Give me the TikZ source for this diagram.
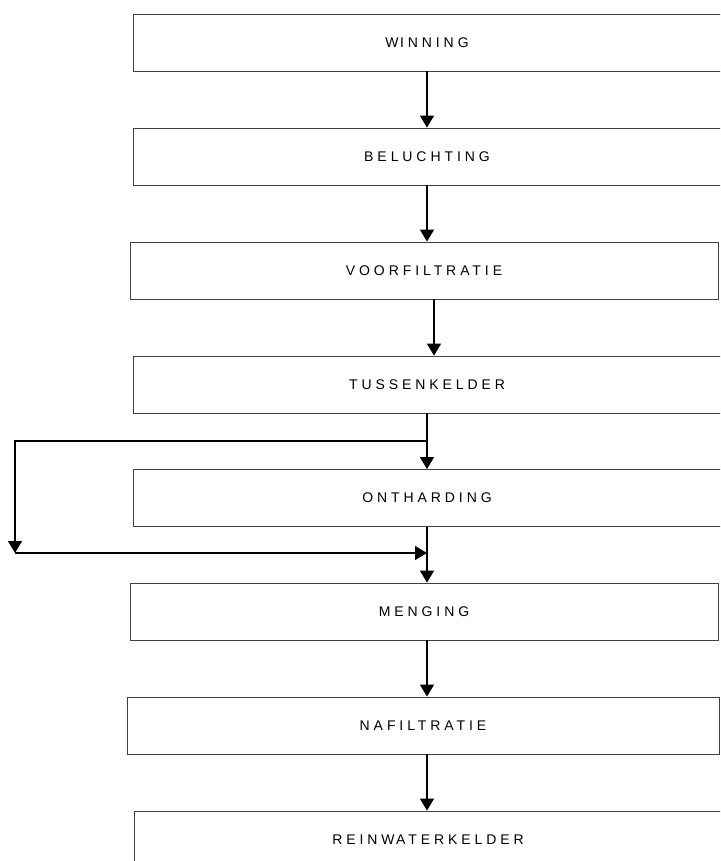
\documentclass[tikz,border=0pt]{standalone}
\usepackage{fontspec}
\setmainfont{Liberation Sans}[LetterSpace=28]
\usetikzlibrary{arrows.meta}
\begin{document}
\begin{tikzpicture}[x=1pt,y=-1pt,
  stage/.style={draw=black!75, line width=0.9pt, minimum height=57pt,
    minimum width=588pt, inner sep=0pt, anchor=center,
    font=\fontsize{14}{16}\selectfont},
  flow/.style={draw=black, line width=1.4pt,
    -{Triangle[length=12pt,width=14pt]}}]
\useasboundingbox (0,0) rectangle (720,861);
\clip (0,0) rectangle (720,861);

% process stages
\node[stage] (win)  at (427,42.5)  {W\kern1.5pt INNING};
\node[stage] (bel)  at (427,156.5) {BELUCHTING};
\node[stage] (voor) at (424,270.5) {VOORFILTRATIE};
\node[stage] (tus)  at (427,384.5) {TUSSENKELDER};
\node[stage] (ont)  at (427,498)   {ONTHARDING};
\node[stage] (men)  at (424,611.5) {MENGING};
\node[stage, minimum width=592pt] (naf) at (423,725.5) {NAFILTRATIE};
\node[stage] (rein) at (428,839.5) {REINW\kern1.5pt ATERKELDER};

% main column and bypass points
\coordinate (col) at (427,0);
\coordinate (col2) at (434,0);
\coordinate (split) at (427,441);
\coordinate (bypass) at (15,553);
\coordinate (merge) at (427,553);

% connectors
\draw[flow] (col |- win.south) -- (col |- bel.north);
\draw[flow] (col |- bel.south) -- (col |- voor.north);
\draw[flow] (col2 |- voor.south) -- (col2 |- tus.north);
\draw[flow] (col |- tus.south) -- (col |- ont.north);
\draw[flow] (split) -| (bypass);
\draw[flow] (bypass) -- (merge);
\draw[flow] (col |- ont.south) -- (col |- men.north);
\draw[flow] (col |- men.south) -- (col |- naf.north);
\draw[flow] (col |- naf.south) -- (col |- rein.north);
\end{tikzpicture}
\end{document}
